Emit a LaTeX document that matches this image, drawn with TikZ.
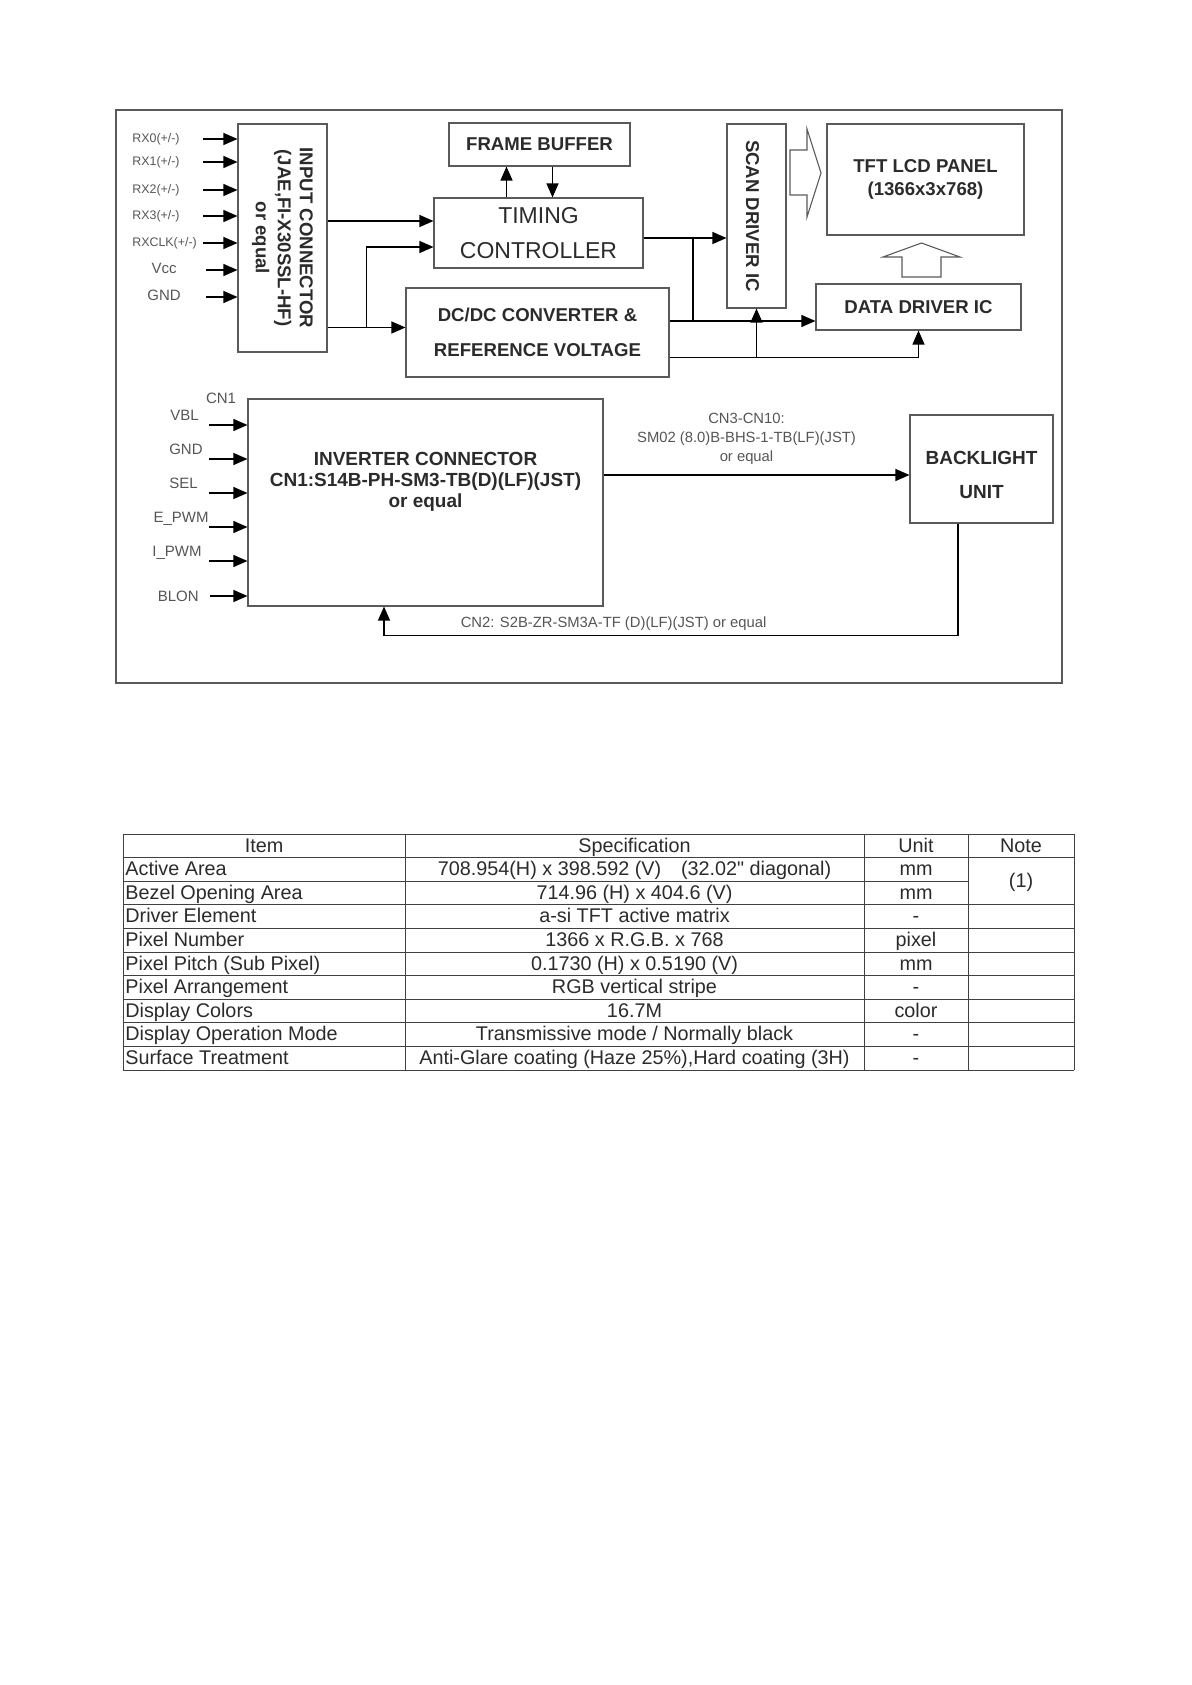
\documentclass[tikz,border=0pt]{standalone}
\usepackage{fontspec}
\setmainfont{Liberation Sans}[Ligatures=TeXOff]
\usetikzlibrary{arrows.meta, positioning, calc}
\definecolor{lcdline}{HTML}{5A5A5A}
\definecolor{lcdtext}{HTML}{2B2B2B}
\definecolor{lcdpin}{HTML}{555555}

\begin{document}
\begin{tikzpicture}[
  x=0.5pt, y=-0.5pt,
  every node/.style={text=lcdtext, inner sep=1pt},
  blockbox/.style={rectangle, draw=lcdline, line width=0.55pt, inner sep=0pt},
  blocktxt/.style={font=\fontsize{9.3}{11}\selectfont\bfseries, align=center},
  sigarrow/.style={-{Triangle[length=7pt,width=6pt]}, line width=0.6pt, draw=black},
  sigline/.style={line width=0.6pt, draw=black},
  rxlbl/.style={font=\fontsize{6.2}{7}\selectfont, text=lcdpin},
  pinlbl/.style={font=\fontsize{7.5}{9}\selectfont, text=lcdpin},
  cnlbl/.style={font=\fontsize{7.4}{9.5}\selectfont, text=lcdpin, align=center},
  hollow/.style={draw=lcdline, line width=0.55pt, fill=white},
  cell/.style={font=\fontsize{9.9}{11}\selectfont, inner sep=0pt, text height=7pt, text depth=2pt},
  gridline/.style={draw=black!75, line width=0.5pt},
]
\useasboundingbox (0,0) rectangle (1191,1685);

% Block diagram frame
\draw[draw=lcdline, line width=0.6pt] (116,110) rectangle (1062,683);

% Upper part: panel electronics
\node[blockbox, minimum width=44.5pt, minimum height=114pt] (inconn) at (282.5,238) {};
\node[blocktxt, rotate=-90] (inconntxt) at (inconn.center) {INPUT CONNECTOR\\(JAE,FI-X30SSL-HF)\\or equal};
\node[blockbox, blocktxt, minimum width=90.5pt, minimum height=21.5pt] (fbuf) at (539.5,144.5) {FRAME BUFFER};
\node[blockbox, minimum width=104.5pt, minimum height=35pt, font=\fontsize{11.5}{17.5}\selectfont, align=center] (tcon) at (538.5,233) {TIMING\\CONTROLLER};
\node[blockbox, blocktxt, minimum width=131.5pt, minimum height=44.5pt, font=\fontsize{9.3}{17.5}\selectfont\bfseries] (dcdc) at (537.5,332.5) {DC/DC CONVERTER \&\\REFERENCE VOLTAGE};
\node[blockbox, minimum width=29.5pt, minimum height=92pt] (scan) at (756.5,216) {};
\node[blocktxt, rotate=-90] (scantxt) at ([xshift=-2pt]scan.center) {SCAN DRIVER IC};
\node[blockbox, blocktxt, minimum width=98.5pt, minimum height=55.5pt, font=\fontsize{9.3}{11.5}\selectfont\bfseries] (panel) at (925.5,179.5) {TFT LCD PANEL\\(1366x3x768)};
\node[blockbox, blocktxt, minimum width=102.5pt, minimum height=23pt] (ddrv) at (918.5,307) {DATA DRIVER IC};

% input pins
\foreach \pin/\yy [count=\i] in {{RX0(+/-)}/139, {RX1(+/-)}/162, {RX2(+/-)}/190, {RX3(+/-)}/216, {RXCLK(+/-)}/243} {
  \node[rxlbl, anchor=west] (rx\i) at (130,\yy) {\pin};
  \coordinate (rxs\i) at (203,\yy);
  \draw[sigarrow] (rxs\i) -- (rxs\i -| inconn.west);
}
\foreach \pin/\yy [count=\i] in {Vcc/270, GND/297} {
  \node[pinlbl] (pw\i) at (164,\yy-2) {\pin};
  \coordinate (pws\i) at (206,\yy);
  \draw[sigarrow] (pws\i) -- (pws\i -| inconn.west);
}

% data and power paths
\coordinate (tin1) at ([yshift=6pt]tcon.west);
\coordinate (tin2) at ([yshift=-7pt]tcon.west);
\coordinate (din) at ([yshift=2.5pt]dcdc.west);
\coordinate (j1) at ([xshift=-19.5pt]din);
\draw[sigarrow] (inconn.east |- tin1) -- (tin1);
\draw[sigarrow] (inconn.east |- din) -- (din);
\draw[sigarrow] (j1) |- (tin2);

\coordinate (fbu) at ([xshift=-16pt]tcon.north);
\coordinate (fbd) at ([xshift=7pt]tcon.north);
\draw[sigarrow] (fbu) -- (fbu |- fbuf.south);
\draw[sigarrow] (fbd |- fbuf.south) -- (fbd);

\coordinate (sin) at ([yshift=-11pt]scan.west);
\coordinate (ddin) at ([yshift=-7pt]ddrv.west);
\coordinate (j2) at (693,238);
\draw[sigarrow] (tcon.east |- sin) -- (sin);
\draw[sigarrow] (dcdc.east |- ddin) -- (ddin);
\draw[sigline] (j2) -- (j2 |- ddin);

\coordinate (pb) at ([yshift=-12.5pt]dcdc.east);
\draw[sigarrow] (pb) -| (ddrv.south);
\draw[sigarrow] (pb -| scan.south) -- (scan.south);

% hollow arrows into the panel
\draw[hollow] (790,150) -- (807,150) -- (807,129) -- (821,173) -- (807,217) -- (807,195) -- (790,195) -- cycle;
\draw[hollow] (902,277) -- (902,257) -- (883,257) -- (921.5,243) -- (960,257) -- (941,257) -- (941,277) -- cycle;

% Lower part: backlight
\node[blockbox, minimum width=177.5pt, minimum height=103.5pt] (inv) at (425.5,502.5) {};
\node[blocktxt, font=\fontsize{9.5}{10.5}\selectfont\bfseries] (invtxt) at (425.5,482) {INVERTER CONNECTOR\\CN1:S14B-PH-SM3-TB(D)(LF)(JST)\\or equal};
\node[blockbox, minimum width=71.5pt, minimum height=54pt] (blu) at (981.5,469) {};
\node[blocktxt, font=\fontsize{9.5}{17}\selectfont\bfseries] (blutxt) at (981.5,475) {BACKLIGHT\\UNIT};

\node[pinlbl] (cn1) at (221,398) {CN1};
\foreach \pin/\xx/\yy [count=\i] in {VBL/201/425, GND/205/459, SEL/200/493, E\_PWM/211/527, I\_PWM/204/561} {
  \node[pinlbl, anchor=base east] (pl\i) at (\xx,\yy-4.5) {\pin};
  \coordinate (ps\i) at (209,\yy);
  \draw[sigarrow] (ps\i) -- (ps\i -| inv.west);
}
\node[pinlbl, anchor=east] (blon) at (201,596) {BLON};
\coordinate (pblon) at (210,596);
\draw[sigarrow] (pblon) -- (pblon -| inv.west);

\coordinate (bin) at ([yshift=-3pt]blu.west);
\draw[sigarrow] (inv.east |- bin) -- node[cnlbl, above=4pt, xshift=-5pt] (cn3) {CN3-CN10:\\SM02 (8.0)B-BHS-1-TB(LF)(JST)\\or equal} (bin);

\coordinate (bout) at ([xshift=-11.75pt]blu.south);
\coordinate (iin) at ([xshift=-20.75pt]inv.south);
\draw[sigarrow] (bout) -- ++(0,112) -| node[cnlbl, pos=0.3, above=1pt] (cn2) {CN2: S2B-ZR-SM3A-TF (D)(LF)(JST) or equal} (iin);

% Specification table
\foreach \k in {0,1,3,4,5,6,7,8,9,10}
  \draw[gridline] (123,834+23.6*\k) -- (1074,834+23.6*\k);
\draw[gridline] (123,881.2) -- (968,881.2);
\foreach \xx in {123,405,864,968,1074}
  \draw[gridline] (\xx,834) -- (\xx,1070);

\node[cell] (hitem) at (264,847) {Item};
\node[cell] (hspec) at (634.5,847) {Specification};
\node[cell] (hunit) at (916,847) {Unit};
\node[cell] (hnote) at (1021,847) {Note};
\node[cell] (note1) at (1021,882.5) {(1)};

\foreach \item/\spec/\unit [count=\r] in {
  {Active Area}/{708.954(H) x 398.592 (V)\quad(32.02" diagonal)}/mm,
  {Bezel Opening Area}/{714.96 (H) x 404.6 (V)}/mm,
  {Driver Element}/{a-si TFT active matrix}/-,
  {Pixel Number}/{1366 x R.G.B. x 768}/pixel,
  {Pixel Pitch (Sub Pixel)}/{0.1730 (H) x 0.5190 (V)}/mm,
  {Pixel Arrangement}/{RGB vertical stripe}/-,
  {Display Colors}/{16.7M}/color,
  {Display Operation Mode}/{Transmissive mode / Normally black}/-,
  {Surface Treatment}/{Anti-Glare coating (Haze 25\%),Hard coating (3H)}/-} {
  \node[cell, anchor=west] (item\r) at (125,847+23.6*\r) {\item};
  \node[cell] (spec\r) at (634.5,847+23.6*\r) {\spec};
  \node[cell] (unit\r) at (916,847+23.6*\r) {\unit};
}

\end{tikzpicture}
\end{document}
